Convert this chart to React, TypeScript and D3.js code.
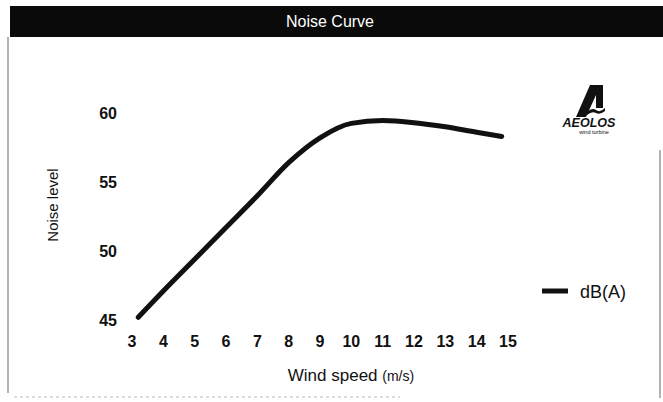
import React from "react";
import * as d3 from "d3";

const windSpeed = [3.2, 4, 5, 6, 7, 8, 9, 10, 11, 12, 13, 14, 14.8];
const noiseLevel = [45.2, 47.1, 49.4, 51.7, 54.0, 56.4, 58.2, 59.25, 59.45, 59.3, 59.0, 58.6, 58.3];
const xTicks = [3, 4, 5, 6, 7, 8, 9, 10, 11, 12, 13, 14, 15];
const yTicks = [45, 50, 55, 60];
const title = "Noise Curve";
const xTitle = "Wind speed ";
const xUnit = "(m/s)";
const yTitle = "Noise level";
const seriesName = "dB(A)";

const W = 663;
const H = 402;

export default function App() {
  const x = d3.scaleLinear().domain([3, 15]).range([132, 508]);
  const y = d3.scaleLinear().domain([45, 60]).range([320, 113]);
  const pts = windSpeed.map((w, i) => [w, noiseLevel[i]] as [number, number]);
  const line = d3
    .line<[number, number]>()
    .x((d) => x(d[0]))
    .y((d) => y(d[1]))
    .curve(d3.curveMonotoneX);
  const font = "'Liberation Sans', Arial, sans-serif";
  return (
    <svg
      width={W}
      height={H}
      style={{ position: "absolute", left: 0, top: 0, background: "#fff" }}
      fontFamily={font}
    >
      <rect x={0} y={0} width={W} height={H} fill="#fff" />
      {/* title band */}
      <rect x={10} y={6} width={653} height={31} fill="#0a0a0a" />
      <text x={330} y={27} textAnchor="middle" fill="#fff" fontSize={16}>
        {title}
      </text>
      {/* frame */}
      <line x1={8} y1={37} x2={8} y2={393} stroke="#666" strokeWidth={1} />
      <line x1={660} y1={150} x2={660} y2={398} stroke="#666" strokeWidth={1} />
      <line x1={14} y1={397} x2={400} y2={397} stroke="#bbb" strokeWidth={1} strokeDasharray="3 3" />

      {/* y ticks */}
      {yTicks.map((t) => (
        <text key={t} x={117} y={y(t) + 6} textAnchor="end" fontSize={16} fontWeight="bold" fill="#111">
          {t}
        </text>
      ))}
      {/* x ticks */}
      {xTicks.map((t) => (
        <text key={t} x={x(t)} y={347} textAnchor="middle" fontSize={16} fontWeight="bold" fill="#111">
          {t}
        </text>
      ))}
      {/* axis titles */}
      <text x={351} y={381} textAnchor="middle" fontSize={17} fill="#111">
        {xTitle}
        <tspan fontSize={14}>{xUnit}</tspan>
      </text>
      <text
        transform={`translate(58,205) rotate(-90)`}
        textAnchor="middle"
        fontSize={15}
        fill="#111"
      >
        {yTitle}
      </text>

      {/* series */}
      <path d={line(pts) ?? ""} fill="none" stroke="#111" strokeWidth={5} strokeLinecap="round" strokeLinejoin="round" />

      {/* legend */}
      <line x1={542} y1={291} x2={568} y2={291} stroke="#111" strokeWidth={5} />
      <text x={580} y={298} fontSize={18} fill="#111">
        {seriesName}
      </text>

      {/* logo */}
      <g fill="#111">
        <path d="M576,117 L590,85 L603,85 L603,108 L596,108 L596,95 L586,117 Z" />
        <path d="M587,112 q5,-5 9,-2 t9,-2 l0,3 q-5,4 -9,2 t-9,2 z" />
        <text x={589} y={127} textAnchor="middle" fontSize={12.5} fontWeight="bold" fontStyle="italic">
          AEOLOS
        </text>
        <text x={594} y={133.5} textAnchor="middle" fontSize={5.5}>
          wind turbine
        </text>
      </g>
    </svg>
  );
}
